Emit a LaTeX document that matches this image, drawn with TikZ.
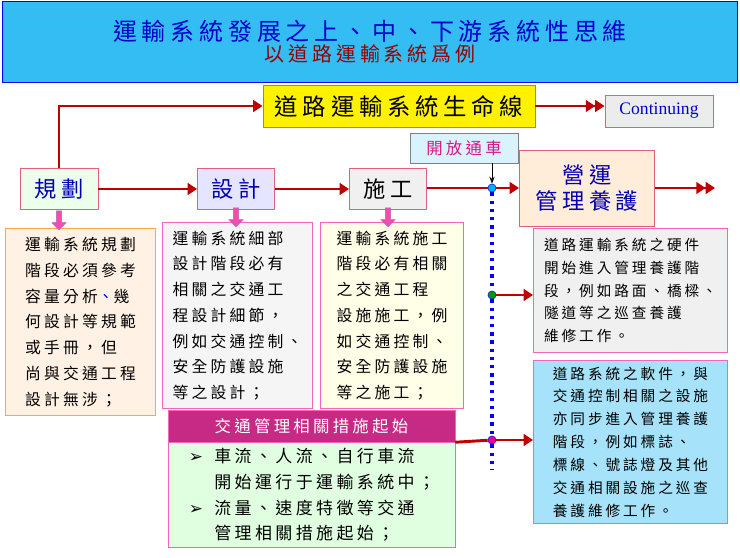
\documentclass[tikz,border=0pt]{standalone}
\usepackage{fontspec}
\setmainfont{Liberation Serif}
\newfontfamily\cjk{Noto Sans CJK TC}[LetterSpace=20]
\usetikzlibrary{arrows.meta,positioning,shapes.arrows}
\definecolor{flowred}{HTML}{C00000}
\definecolor{boxpink}{HTML}{E06080}
\tikzset{
    stagebox/.style={rectangle, draw=boxpink, thick, font=\cjk\fontsize{19}{22}\selectfont, text=blue!70!black, minimum height=1.25cm},
    notebox/.style={rectangle, draw=magenta!60, thick, anchor=north west, align=left, font=\cjk\fontsize{13.5}{22}\selectfont, inner sep=5pt},
    flowarrow/.style={-{Triangle[length=8pt,width=10pt]}, line width=2.5pt, draw=flowred},
    dblarrow/.style={-{Triangle[length=8pt,width=10pt]Triangle[length=8pt,width=10pt]}, line width=2.5pt, draw=flowred},
    downarrow/.style={single arrow, draw=violet!60, fill=magenta!70, shape border rotate=270, minimum width=12pt, single arrow head extend=2pt, minimum height=16pt, inner sep=1pt},
    stagedot/.style={circle, draw=blue, inner sep=0pt, minimum size=7pt}
}
\begin{document}
\begin{tikzpicture}[x=0.03cm, y=-0.03cm]
\useasboundingbox (0,0) rectangle (740,557);
% title
\node[draw=blue, thick, fill=cyan!80, minimum width=735*0.03cm, minimum height=81*0.03cm, align=center, font=\cjk] (title) at (370,42)
  {{\fontsize{20.5}{24}\selectfont\color{blue!80!black}運輸系統發展之上、中、下游系統性思維}\\[1pt]
   {\fontsize{17}{20}\selectfont\color{red!60!black}以道路運輸系統爲例}};
% top row
\node[draw=boxpink, thick, fill=yellow, minimum width=272*0.03cm, minimum height=42*0.03cm, font=\cjk\fontsize{20}{22}\selectfont] (lifeline) at (399,106) {道路運輸系統生命線};
\node[draw=boxpink, thick, fill=gray!15, minimum width=108*0.03cm, minimum height=32*0.03cm, text=blue!80!black, font=\fontsize{15}{18}\selectfont] (cont) at (659,111) {Continuing};
\node[draw=gray, fill=cyan!15, minimum width=108*0.03cm, minimum height=30*0.03cm, text=magenta!80!violet, font=\cjk\fontsize{14}{16}\selectfont] (open) at (464,148) {開放通車};
% stages
\node[stagebox, fill=green!8, minimum width=78*0.03cm] (plan) at (59,189) {規劃};
\node[stagebox, fill=blue!10, minimum width=77*0.03cm] (design) at (236,189) {設計};
\node[stagebox, fill=gray!12, text=black, minimum width=77*0.03cm] (build) at (388,189) {施工};
\node[stagebox, fill=orange!15, minimum width=135*0.03cm, minimum height=76*0.03cm, align=center] (oper) at (587,188) {營運\\管理養護};
\coordinate (fin) at (715,188);
% dots on the opening line
\node[stagedot, fill=cyan] (d1) at (492,188) {};
\node[stagedot, fill=green!60!black] (d2) at (492,295) {};
\node[stagedot, fill=magenta] (d3) at (492,440) {};
\coordinate (dend) at (492,470);
\draw[blue, line width=3pt, dash pattern=on 3pt off 4pt] (d1) -- (d2) -- (d3) -- (dend);
\draw[-{Stealth[length=6pt]}, thick] (open.south -| d1) -- (d1.north);
% flow
\draw[flowarrow] (plan) -- (design);
\draw[flowarrow] (design) -- (build);
\draw[line width=2.5pt, flowred] (build.east |- d1) -- (d1.west);
\draw[flowarrow] (d1) -- (d1 -| oper.west);
\draw[dblarrow] (oper.east |- d1) -- (fin);
\draw[flowarrow] (plan.north) |- (lifeline.west);
\draw[dblarrow] (lifeline.east) -- (lifeline.east -| cont.west);
% notes
\node[notebox, draw=orange!70, fill=orange!10, minimum width=150*0.03cm, minimum height=187*0.03cm] (planNote) at (5,228)
  {運輸系統規劃\\階段必須參考\\容量分析{\color{blue}、}幾\\何設計等規範\\或手冊，但\\尚與交通工程\\設計無涉；};
\node[notebox, fill=gray!8, minimum width=150*0.03cm, minimum height=186*0.03cm] (designNote) at (162,222)
  {運輸系統細部\\設計階段必有\\相關之交通工\\程設計細節，\\例如交通控制、\\安全防護設施\\等之設計；};
\node[notebox, fill=yellow!10, minimum width=143*0.03cm, minimum height=186*0.03cm] (buildNote) at (320,222)
  {運輸系統施工\\階段必有相關\\之交通工程\\設施施工，例\\如交通控制、\\安全防護設施\\等之施工；};
\node[downarrow] at (59,219) {};
\node[downarrow] at (236,216) {};
\node[downarrow] at (388,216) {};
\node[notebox, fill=gray!12, minimum width=194*0.03cm, minimum height=124*0.03cm, font=\cjk\fontsize{12.5}{19.5}\selectfont] (hwNote) at (533,228)
  {道路運輸系統之硬件\\開始進入管理養護階\\段，例如路面、橋樑、\\隧道等之巡查養護\\維修工作。};
\node[notebox, fill=cyan!35, minimum width=194*0.03cm, minimum height=163*0.03cm, font=\cjk\fontsize{12.5}{19.5}\selectfont] (swNote) at (533,360)
  {道路系統之軟件，與\\交通控制相關之設施\\亦同步進入管理養護\\階段，例如標誌、\\標線、號誌燈及其他\\交通相關設施之巡查\\養護維修工作。};
\node[draw=magenta!60, fill=magenta!80!black, text=white, minimum width=287*0.03cm, minimum height=32*0.03cm, font=\cjk\fontsize{14}{16}\selectfont] (trafHead) at (311.5,426) {交通管理相關措施起始};
\node[notebox, fill=green!12, minimum width=287*0.03cm, minimum height=105*0.03cm, inner sep=3pt, font=\cjk\fontsize{14.5}{22}\selectfont] (trafBody) at (168,442)
  {\makebox[1.5em][l]{\fontspec{DejaVu Sans}➢}車流、人流、自行車流\\\hspace*{1.5em}開始運行于運輸系統中；\\\makebox[1.5em][l]{\fontspec{DejaVu Sans}➢}流量、速度特徵等交通\\\hspace*{1.5em}管理相關措施起始；};
\draw[flowarrow] (d2) -- (d2 -| hwNote.west);
\draw[line width=2.5pt, flowred] (trafHead.south east) -- (d3);
\draw[flowarrow] (d3) -- (d3 -| swNote.west);
\end{tikzpicture}
\end{document}
